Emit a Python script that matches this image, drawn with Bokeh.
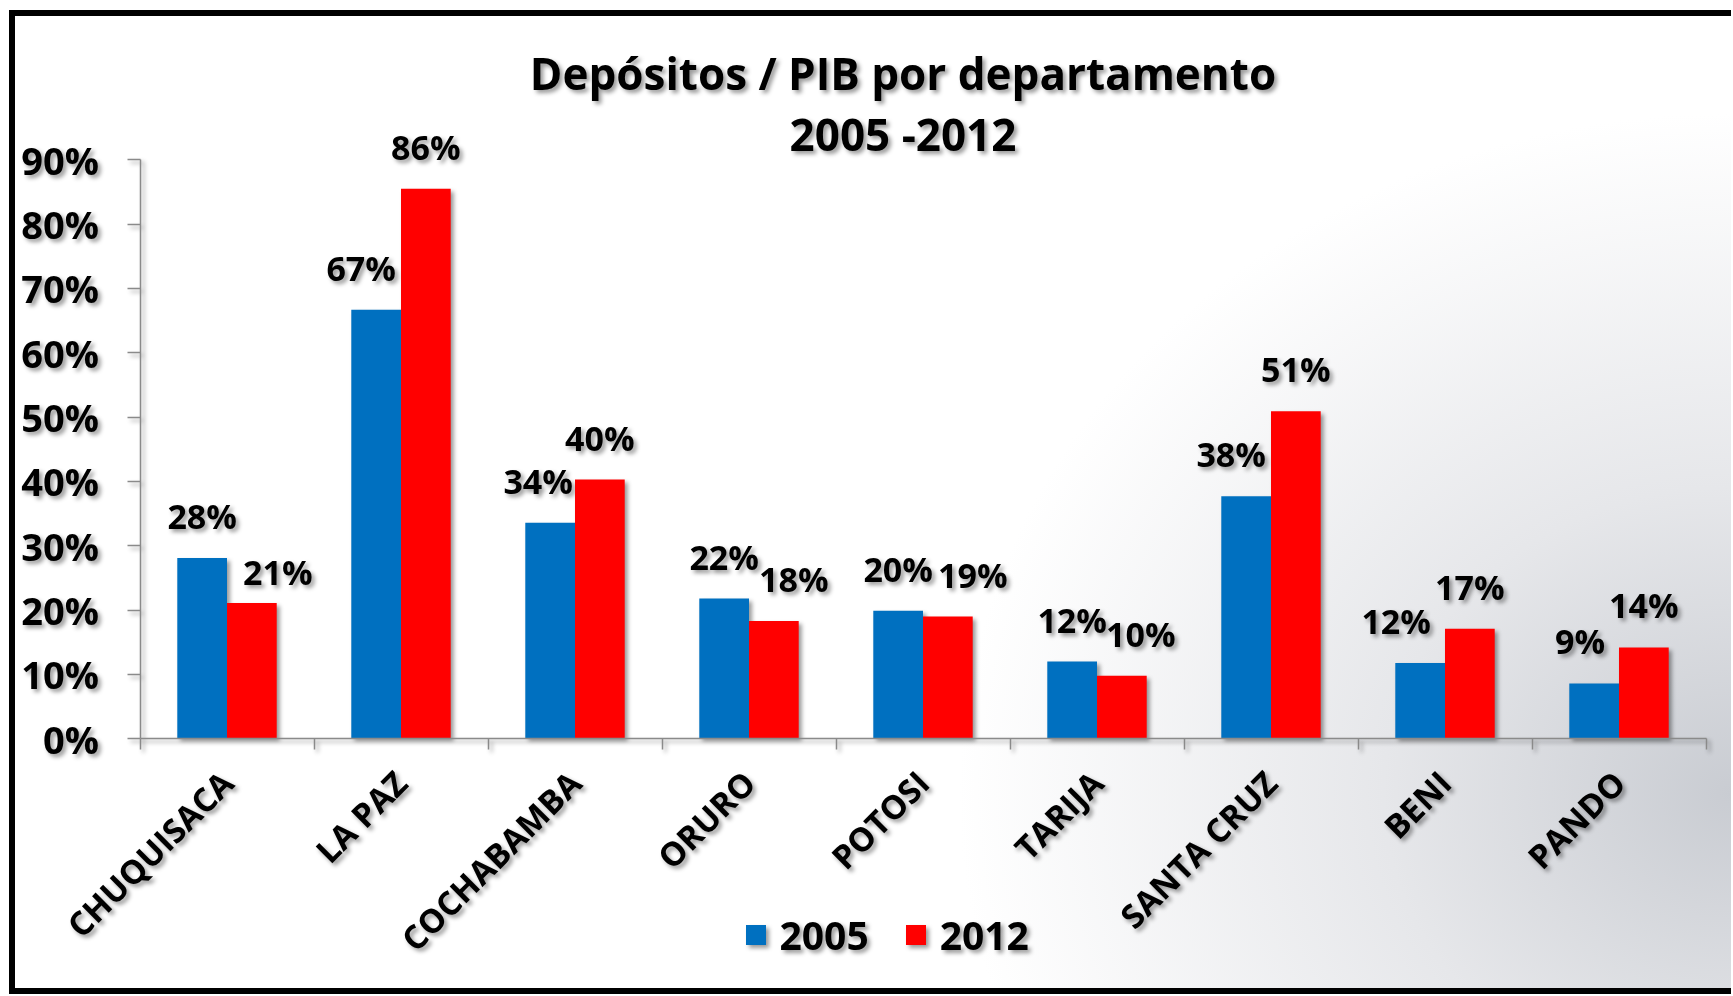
import numpy as np
from math import pi
from bokeh.plotting import figure
from bokeh.models import (ColumnDataSource, Range1d, FixedTicker, NumeralTickFormatter,
                          LabelSet, Label, Legend, LegendItem)
from bokeh.core.properties import value
from bokeh.transform import dodge
from bokeh.layouts import column
from bokeh.embed import file_html
from bokeh.resources import INLINE

# ---------------- data ----------------
departamentos = ["CHUQUISACA", "LA PAZ", "COCHABAMBA", "ORURO", "POTOSI",
                 "TARIJA", "SANTA CRUZ", "BENI", "PANDO"]
dep_2005 = [0.281, 0.667, 0.336, 0.218, 0.199, 0.120, 0.377, 0.118, 0.086]
dep_2012 = [0.211, 0.855, 0.403, 0.183, 0.190, 0.098, 0.509, 0.171, 0.142]
series = ["2005", "2012"]
y_ticks = [0.0, 0.1, 0.2, 0.3, 0.4, 0.5, 0.6, 0.7, 0.8, 0.9]
title_line1 = "Depósitos / PIB por departamento"
title_line2 = "2005 -2012"

# label nudges (pixels) to mimic hand-placed data labels
nudge_x_2005 = [0, -15, -12, 0, 0, 0, -15, -24, -14]
nudge_x_2012 = [26, 0, 0, 20, 25, 19, 0, 0, 0]
nudge_y_2012 = [-11, 0, 0, 0, 0, 0, 0, 0, 0]

FONT = "Open Sans"
BLUE = "#0070C0"
RED = "#FF0000"
AXIS_GRAY = "#8a8a8a"

# ---------------- geometry (pixels, inside the figure) ----------------
FIG_W, FIG_H = 1716, 972
X0_PX, CAT_PX = 124.5, 174.0               # x of the value axis, width of a category
Y0_PX, Y90_PX = 722.3, 143.3               # rows of 0% and 90%
px_per_unit = (Y0_PX - Y90_PX) / 0.9

n = len(departamentos)
x_start = -X0_PX / CAT_PX
x_end = x_start + FIG_W / CAT_PX
y_start = -(FIG_H - Y0_PX) / px_per_unit
y_end = 0.9 + Y90_PX / px_per_unit

xc = np.arange(n) + 0.5
bw = 1 / 3.5

src = ColumnDataSource(dict(
    xc=xc,
    v2005=dep_2005,
    v2012=dep_2012,
    t2005=[f"{round(v * 100):d}%" for v in dep_2005],
    t2012=[f"{round(v * 100):d}%" for v in dep_2012],
    dx2005=nudge_x_2005,
    dx2012=nudge_x_2012,
    dy2005=[29] * n,
    dy2012=[29 + d for d in nudge_y_2012],
))

p = figure(width=FIG_W, height=FIG_H, output_backend="svg", toolbar_location=None,
           x_range=Range1d(x_start, x_end), y_range=Range1d(y_start, y_end),
           min_border_left=0, min_border_right=0,
           min_border_top=0, min_border_bottom=0, title=None)
p.background_fill_color = None
p.border_fill_color = None
p.outline_line_color = None
p.grid.grid_line_color = None

r05 = p.vbar(x=dodge("xc", -bw / 2, range=p.x_range), top="v2005", width=bw,
             source=src, fill_color=BLUE, line_color=None)
r12 = p.vbar(x=dodge("xc", bw / 2, range=p.x_range), top="v2012", width=bw,
             source=src, fill_color=RED, line_color=None)

for key, sign in (("2005", -1), ("2012", 1)):
    ls = LabelSet(x=dodge("xc", sign * bw / 2, range=p.x_range), y="v" + key,
                  text="t" + key, x_offset="dx" + key, y_offset="dy" + key,
                  source=src, text_align="center", text_baseline="alphabetic",
                  text_font=value(FONT), text_font_style=value("bold"),
                  text_font_size=value("34px"), text_color=value("black"))
    p.add_layout(ls)

# x axis: crosses at 0, labels at centres, tick marks at category boundaries
xa = p.xaxis[0]
xa.fixed_location = 0
xa.bounds = (0, n)
xa.ticker = FixedTicker(ticks=list(xc), minor_ticks=list(np.arange(n + 1)))
xa.major_label_overrides = {float(x): d for x, d in zip(xc, departamentos)}
xa.major_label_orientation = pi / 4
xa.major_tick_line_color = None
xa.minor_tick_line_color = AXIS_GRAY
xa.minor_tick_line_width = 1.5
xa.minor_tick_out = 11
xa.minor_tick_in = 0
xa.axis_line_color = AXIS_GRAY
xa.axis_line_width = 1.5
xa.major_label_text_font = FONT
xa.major_label_text_font_style = "bold"
xa.major_label_text_font_size = "33px"
xa.major_label_text_color = "black"
xa.major_label_standoff = 27

# y axis: crosses at x = 0
ya = p.yaxis[0]
ya.fixed_location = 0
ya.ticker = FixedTicker(ticks=y_ticks)
ya.formatter = NumeralTickFormatter(format="0%")
ya.bounds = (0, 0.9)
ya.axis_line_color = AXIS_GRAY
ya.axis_line_width = 1.5
ya.major_tick_line_color = AXIS_GRAY
ya.major_tick_line_width = 1.5
ya.major_tick_out = 13
ya.major_tick_in = 0
ya.minor_tick_line_color = None
ya.major_label_text_font = FONT
ya.major_label_text_font_style = "bold"
ya.major_label_text_font_size = "38px"
ya.major_label_text_color = "black"
ya.major_label_standoff = 28

for txt, dy in ((title_line1, 87), (title_line2, 26)):
    p.add_layout(Label(x=n / 2, y=0.9, x_offset=-20, y_offset=dy, text=txt,
                       text_align="center", text_baseline="alphabetic",
                       text_font=FONT, text_font_style="bold",
                       text_font_size="44px", text_color="black"))

legend = Legend(items=[LegendItem(label=series[0], renderers=[r05]),
                       LegendItem(label=series[1], renderers=[r12])],
                orientation="horizontal", location=(603 + X0_PX, 27),
                glyph_width=25, glyph_height=25, label_standoff=12, spacing=34,
                padding=0, margin=0, border_line_color=None,
                background_fill_alpha=0, label_text_font=FONT,
                label_text_font_style="bold", label_text_font_size="39px",
                label_text_color="black")
p.add_layout(legend, "center")

p.styles = {"filter": "drop-shadow(3px 3px 2px rgba(0,0,0,0.4))"}

layout = column(p, styles={
    "margin-top": "10px",
    "margin-left": "9px",
    "border-left": "6px solid black",
    "border-top": "6px solid black",
    "border-bottom": "6px solid black",
    "background": "radial-gradient(ellipse 45% 70% at 100% 80%, #c9ccd2 0%, #e6e7ea 45%, #ffffff 100%)",
})

open("out.html", "w").write(file_html(layout, INLINE))
